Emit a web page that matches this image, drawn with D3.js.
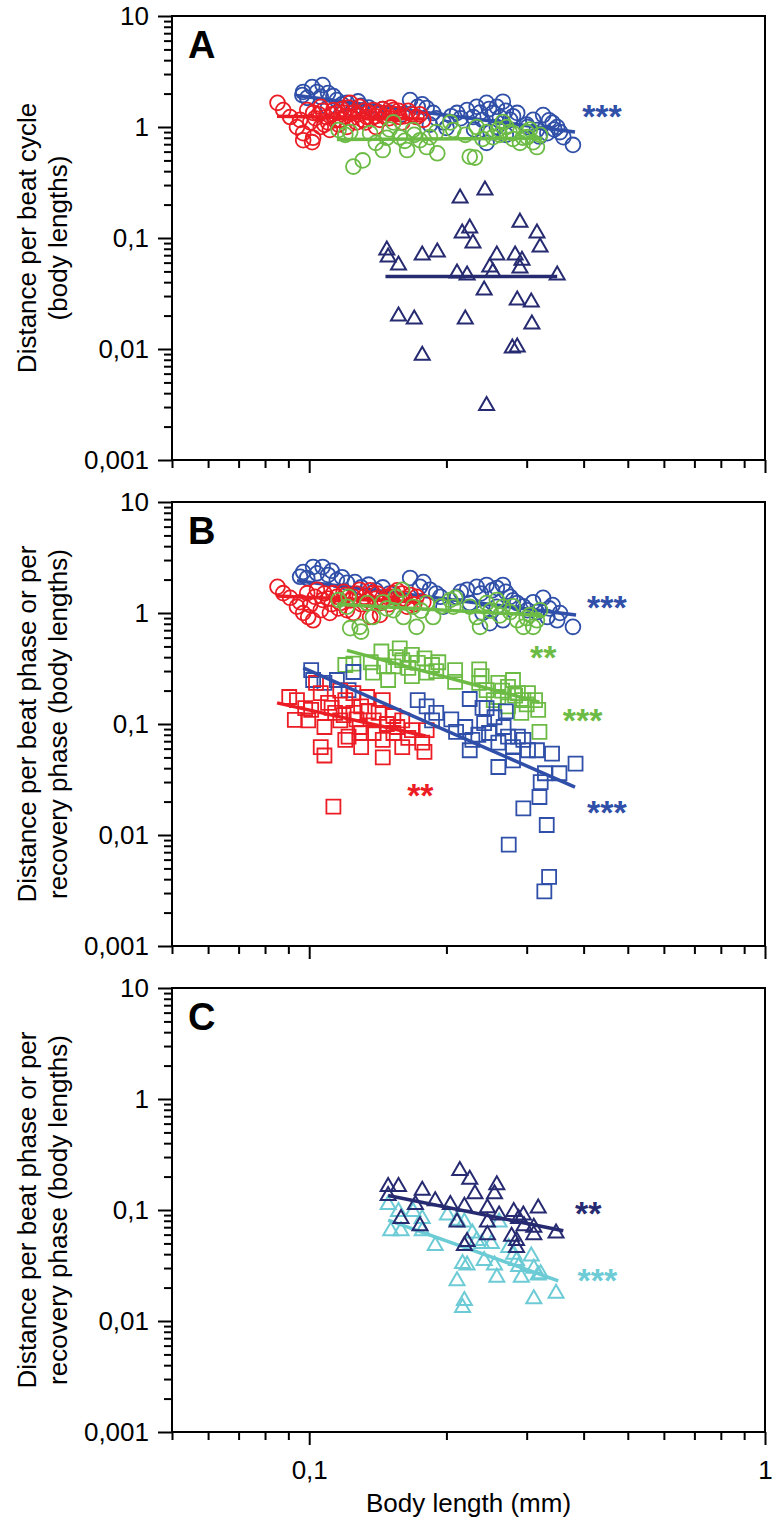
<!DOCTYPE html>
<html><head><meta charset="utf-8">
<script src="https://cdn.jsdelivr.net/npm/d3@7"></script>
<style>
body{margin:0;background:#fff;}
text{font-family:"Liberation Sans",Arial,sans-serif;}
.narrow{font-family:"Liberation Sans Narrow","Arial Narrow","Liberation Sans",Arial,sans-serif;}
</style>
</head><body>
<svg id="chart" width="774" height="1528"></svg>
<script>
// ---------- labels ----------
const yTickValues = [0.001, 0.01, 0.1, 1, 10];
const yTickLabels = ["0,001", "0,01", "0,1", "1", "10"];
const xTickValues = [0.1, 1];
const xTickLabels = ["0,1", "1"];
const xTitle = "Body length (mm)";
const panelLetters = ["A", "B", "C"];
const titleA = ["Distance per beat cycle", "(body lengths)"];
const titleBC = ["Distance per beat phase or per", "recovery phase (body lengths)"];

// ---------- panel A data [body length mm, distance body lengths] ----------
const aBlueCircles = [[0.097,2.07],[0.1015,2.29],[0.107,2.39],[0.104,2.07],[0.110,2.02],[0.099,1.83],[0.106,1.87],[0.115,1.75],[0.121,1.65],[0.0966,1.94],[0.11,1.5],[0.125,1.45],[0.13,1.55],[0.14,1.4],[0.15,1.35],[0.1665,1.75],[0.173,1.52],[0.181,1.48],[0.187,1.34],[0.197,1.10],[0.184,1.05],[0.2,0.98],[0.211,1.34],[0.222,1.42],[0.233,1.52],[0.245,1.65],[0.258,1.52],[0.266,1.69],[0.229,1.23],[0.240,1.16],[0.253,1.34],[0.262,1.23],[0.276,1.16],[0.286,1.34],[0.245,0.72],[0.258,1.0],[0.215,1.2],[0.23,0.95],[0.25,0.9],[0.27,0.85],[0.310,1.16],[0.326,1.28],[0.342,1.09],[0.316,0.94],[0.333,0.88],[0.350,1.0],[0.361,0.81],[0.379,0.69],[0.301,1.0],[0.32,0.82],[0.30,1.05],[0.113,1.9],[0.118,1.6],[0.128,1.7],[0.135,1.5],[0.145,1.45],[0.16,1.3],[0.177,1.6],[0.19,1.2],[0.205,1.25],[0.237,1.35],[0.248,1.45],[0.27,1.4],[0.28,1.25],[0.336,1.15],[0.345,0.95],[0.355,0.9]];
const aRedCircles = [[0.0852,1.65],[0.0877,1.42],[0.0908,1.23],[0.094,1.0],[0.097,0.88],[0.102,0.80],[0.099,1.42],[0.102,1.34],[0.106,1.52],[0.109,1.23],[0.113,1.42],[0.117,1.16],[0.121,1.0],[0.125,1.34],[0.129,1.52],[0.134,1.23],[0.138,1.42],[0.143,1.16],[0.148,1.34],[0.153,1.42],[0.158,1.23],[0.172,1.23],[0.178,1.16],[0.0955,1.16],[0.1005,1.10],[0.106,1.0],[0.111,0.94],[0.115,1.34],[0.123,1.65],[0.131,1.16],[0.140,1.0],[0.150,1.20],[0.097,0.76],[0.1015,0.73],[0.105,1.3],[0.11,1.1],[0.12,1.25],[0.118,1.45],[0.127,1.1],[0.135,1.35],[0.14,1.25],[0.145,1.45],[0.155,1.3],[0.16,1.1],[0.165,1.4],[0.175,1.3],[0.103,1.2],[0.107,1.4],[0.112,1.3],[0.114,1.15],[0.119,1.35],[0.122,1.5],[0.124,1.2],[0.128,1.3],[0.132,1.4],[0.133,1.1],[0.137,1.2],[0.142,1.35],[0.146,1.25],[0.151,1.5],[0.157,1.4],[0.162,1.25],[0.168,1.3],[0.108,1.05],[0.116,1.05]];
const aGreenCircles = [[0.116,0.94],[0.123,0.90],[0.136,0.88],[0.140,0.72],[0.145,0.62],[0.153,1.10],[0.158,0.81],[0.164,0.62],[0.169,0.94],[0.175,0.76],[0.181,0.66],[0.184,0.81],[0.191,0.58],[0.204,1.10],[0.207,0.94],[0.225,0.54],[0.231,0.53],[0.233,1.0],[0.245,0.90],[0.253,0.81],[0.266,1.11],[0.271,1.0],[0.280,0.88],[0.290,0.72],[0.301,0.81],[0.310,0.73],[0.316,0.66],[0.321,0.85],[0.125,0.44],[0.131,0.50],[0.12,0.85],[0.15,0.95],[0.17,0.85],[0.26,0.95],[0.28,0.78],[0.3,0.9],[0.19,0.9],[0.22,0.85],[0.148,0.8],[0.162,0.75],[0.24,0.78],[0.262,0.85],[0.275,0.9],[0.295,0.8],[0.305,0.95]];
const aNavyTriangles = [[0.2143,0.229],[0.243,0.270],[0.290,0.139],[0.225,0.123],[0.2166,0.111],[0.316,0.111],[0.2287,0.090],[0.321,0.083],[0.148,0.078],[0.149,0.0675],[0.177,0.0703],[0.191,0.0748],[0.157,0.057],[0.258,0.0703],[0.283,0.0703],[0.293,0.063],[0.249,0.0548],[0.211,0.0484],[0.222,0.0464],[0.253,0.0494],[0.290,0.0537],[0.350,0.0464],[0.242,0.034],[0.286,0.0276],[0.307,0.0265],[0.157,0.0198],[0.170,0.0186],[0.220,0.0186],[0.308,0.0168],[0.286,0.0104],[0.279,0.0102],[0.177,0.0088],[0.245,0.0031]];
const aBlueFit = [[0.094,1.92],[0.383,0.90]];
const aRedFit = [[0.085,1.25],[0.178,1.18]];
const aGreenFit = [[0.115,0.77],[0.325,0.79]];
const aNavyFit = [[0.147,0.045],[0.35,0.045]];

// ---------- panel B data ----------
const bBlueCircles = [[0.097,2.34],[0.102,2.60],[0.107,2.60],[0.104,2.28],[0.110,2.20],[0.115,1.98],[0.121,1.87],[0.099,2.07],[0.0955,2.12],[0.1665,2.07],[0.175,1.72],[0.184,1.62],[0.194,1.40],[0.197,1.14],[0.211,1.40],[0.222,1.62],[0.233,1.72],[0.245,1.79],[0.258,1.68],[0.266,1.79],[0.225,1.23],[0.240,1.0],[0.249,0.81],[0.266,0.86],[0.276,1.40],[0.286,1.23],[0.310,1.25],[0.326,1.37],[0.342,1.18],[0.316,1.02],[0.333,0.92],[0.350,0.86],[0.379,0.75],[0.301,1.06],[0.258,1.14],[0.13,1.7],[0.14,1.6],[0.15,1.5],[0.112,2.4],[0.118,2.1],[0.126,1.9],[0.135,1.8],[0.145,1.7],[0.178,1.9],[0.19,1.5],[0.215,1.55],[0.238,1.5],[0.252,1.6],[0.27,1.55],[0.28,1.3],[0.295,1.15],[0.336,1.1],[0.355,1.0]];
const bRedCircles = [[0.0852,1.72],[0.0877,1.51],[0.0908,1.37],[0.094,1.14],[0.097,1.0],[0.102,0.86],[0.0995,0.92],[0.099,1.51],[0.104,1.62],[0.107,1.31],[0.113,1.51],[0.117,1.23],[0.121,1.06],[0.125,1.40],[0.129,1.62],[0.134,1.31],[0.138,1.51],[0.143,1.23],[0.148,1.40],[0.153,1.51],[0.158,1.31],[0.164,1.14],[0.172,1.40],[0.178,1.25],[0.106,1.06],[0.111,1.0],[0.136,0.92],[0.125,1.0],[0.143,0.96],[0.0955,1.25],[0.1005,1.18],[0.11,1.35],[0.12,1.45],[0.13,1.2],[0.14,1.35],[0.15,1.2],[0.16,1.5],[0.17,1.2],[0.103,1.4],[0.108,1.5],[0.112,1.2],[0.115,1.4],[0.119,1.55],[0.123,1.3],[0.127,1.5],[0.132,1.4],[0.136,1.6],[0.141,1.5],[0.146,1.3],[0.152,1.4],[0.156,1.6],[0.162,1.35],[0.167,1.45],[0.116,1.1]];
const bGreenCircles = [[0.116,1.31],[0.121,1.14],[0.134,1.23],[0.138,0.92],[0.123,0.73],[0.129,0.75],[0.145,1.25],[0.155,1.40],[0.153,1.06],[0.161,0.92],[0.172,0.75],[0.169,1.14],[0.181,1.23],[0.187,0.92],[0.204,1.31],[0.207,1.14],[0.225,1.14],[0.233,0.92],[0.237,0.75],[0.245,1.23],[0.258,1.31],[0.266,1.14],[0.276,1.02],[0.286,0.86],[0.295,0.75],[0.305,0.96],[0.316,0.86],[0.321,1.06],[0.310,0.75],[0.130,0.68],[0.209,1.37],[0.16,1.62],[0.122,1.4],[0.148,1.1],[0.176,1.05],[0.195,1.15],[0.25,1.05],[0.262,0.95],[0.28,1.15],[0.3,0.9]];
const bGreenSquares = [[0.125,0.35],[0.1365,0.36],[0.144,0.45],[0.146,0.33],[0.138,0.29],[0.149,0.249],[0.158,0.48],[0.160,0.377],[0.153,0.33],[0.168,0.42],[0.173,0.355],[0.179,0.39],[0.186,0.34],[0.192,0.36],[0.168,0.27],[0.181,0.29],[0.209,0.306],[0.209,0.24],[0.236,0.31],[0.239,0.27],[0.236,0.235],[0.245,0.202],[0.260,0.235],[0.260,0.175],[0.273,0.216],[0.280,0.249],[0.287,0.19],[0.295,0.164],[0.273,0.144],[0.302,0.19],[0.313,0.164],[0.318,0.134],[0.292,0.126],[0.320,0.085],[0.254,0.164],[0.12,0.34],[0.155,0.4],[0.165,0.32],[0.19,0.3],[0.265,0.2],[0.283,0.18],[0.3,0.15]];
const bBlueSquares = [[0.102,0.249],[0.101,0.306],[0.108,0.235],[0.115,0.249],[0.122,0.202],[0.125,0.294],[0.173,0.164],[0.181,0.144],[0.190,0.126],[0.186,0.108],[0.225,0.168],[0.245,0.139],[0.220,0.094],[0.228,0.072],[0.225,0.058],[0.242,0.102],[0.248,0.083],[0.260,0.068],[0.267,0.094],[0.273,0.077],[0.280,0.062],[0.287,0.077],[0.260,0.041],[0.280,0.047],[0.295,0.072],[0.302,0.058],[0.316,0.058],[0.341,0.054],[0.329,0.036],[0.354,0.036],[0.384,0.044],[0.322,0.030],[0.320,0.022],[0.295,0.0174],[0.332,0.0123],[0.274,0.0082],[0.336,0.0042],[0.328,0.0031],[0.205,0.11],[0.21,0.085],[0.235,0.08],[0.255,0.115],[0.27,0.13],[0.24,0.14]];
const bRedSquares = [[0.0904,0.175],[0.093,0.109],[0.0995,0.108],[0.098,0.139],[0.1035,0.235],[0.106,0.19],[0.110,0.155],[0.114,0.126],[0.108,0.094],[0.106,0.062],[0.108,0.052],[0.113,0.018],[0.120,0.164],[0.125,0.126],[0.122,0.077],[0.130,0.144],[0.1385,0.108],[0.145,0.164],[0.130,0.062],[0.145,0.050],[0.153,0.083],[0.160,0.108],[0.160,0.062],[0.177,0.068],[0.179,0.056],[0.168,0.088],[0.181,0.088],[0.094,0.164],[0.101,0.134],[0.117,0.108],[0.129,0.094],[0.1385,0.083],[0.145,0.072],[0.125,0.19],[0.117,0.20],[0.134,0.175],[0.142,0.126],[0.153,0.118],[0.156,0.094],[0.130,0.083],[0.120,0.072],[0.112,0.14],[0.119,0.12],[0.127,0.11],[0.135,0.13],[0.148,0.1],[0.165,0.075]];
const bBlueCircFit = [[0.094,1.95],[0.385,0.96]];
const bRedCircFit = [[0.085,1.42],[0.178,1.25]];
const bGreenCircFit = [[0.115,1.2],[0.325,0.95]];
const bGreenSqFit = [[0.121,0.46],[0.32,0.157]];
const bBlueSqFit = [[0.097,0.32],[0.383,0.027]];
const bRedSqFit = [[0.085,0.155],[0.18,0.078]];

// ---------- panel C data ----------
const cNavyTriangles = [[0.149,0.163],[0.157,0.163],[0.149,0.135],[0.177,0.151],[0.171,0.112],[0.189,0.121],[0.204,0.112],[0.214,0.227],[0.225,0.189],[0.231,0.140],[0.219,0.108],[0.211,0.078],[0.222,0.052],[0.219,0.048],[0.246,0.105],[0.258,0.169],[0.255,0.140],[0.246,0.078],[0.246,0.060],[0.261,0.090],[0.281,0.097],[0.288,0.084],[0.295,0.090],[0.278,0.058],[0.285,0.046],[0.285,0.053],[0.296,0.072],[0.311,0.070],[0.318,0.104],[0.311,0.060],[0.348,0.062],[0.175,0.072],[0.159,0.084]];
const cCyanTriangles = [[0.149,0.112],[0.157,0.097],[0.151,0.065],[0.159,0.065],[0.169,0.097],[0.177,0.084],[0.177,0.065],[0.189,0.048],[0.201,0.090],[0.211,0.081],[0.219,0.078],[0.228,0.062],[0.217,0.033],[0.222,0.032],[0.211,0.023],[0.219,0.0153],[0.217,0.0132],[0.239,0.050],[0.251,0.050],[0.242,0.035],[0.255,0.032],[0.258,0.0248],[0.261,0.078],[0.274,0.046],[0.281,0.040],[0.285,0.035],[0.288,0.031],[0.292,0.0248],[0.307,0.0386],[0.311,0.0298],[0.322,0.0267],[0.311,0.0159],[0.348,0.0178],[0.318,0.026],[0.233,0.053]];
const cNavyFit = [[0.149,0.135],[0.361,0.065]];
const cCyanFit = [[0.149,0.081],[0.352,0.023]];

// ---------- significance labels [text, x, y] ----------
const sigA = [["***",0.397,1.45]];
const sigB = [["***",0.407,1.31],["**",0.305,0.464],["***",0.360,0.126],["**",0.164,0.0265],["***",0.407,0.0186]];
const sigC = [["**",0.383,0.109],["***",0.388,0.027]];

// ---------- colours ----------
const BLUE = "#2f4fa8", RED = "#ec1c24", GREEN = "#6cbb45", NAVY = "#262a70", CYAN = "#6ccbd5";

// ---------- layout ----------
const plotL = 172, plotR = 765, panelH = 444;
const panelTops = [16, 502, 988];
const svg = d3.select("#chart");
const x = d3.scaleLog().domain([0.05, 1]).range([plotL, plotR]);

const xMinor = [];
[0.01, 0.1].forEach(b => { for (let k = 2; k <= 9; k++) { const v = +(b * k).toFixed(4); if (v >= 0.05 && v < 1) xMinor.push(v); } });
const yMinor = [];
[0.001, 0.01, 0.1, 1].forEach(b => { for (let k = 2; k <= 9; k++) yMinor.push(+(b * k).toFixed(5)); });

const panels = [
  { letter: panelLetters[0], title: titleA,
    series: [
      { data: aBlueCircles, shape: "circle", color: BLUE }, { fit: aBlueFit, color: BLUE },
      { data: aRedCircles, shape: "circle", color: RED }, { fit: aRedFit, color: RED },
      { data: aGreenCircles, shape: "circle", color: GREEN }, { fit: aGreenFit, color: GREEN },
      { data: aNavyTriangles, shape: "triangle", color: NAVY }, { fit: aNavyFit, color: NAVY }],
    sig: sigA.map(s => [...s, BLUE]) },
  { letter: panelLetters[1], title: titleBC,
    series: [
      { data: bBlueCircles, shape: "circle", color: BLUE }, { fit: bBlueCircFit, color: BLUE },
      { data: bRedCircles, shape: "circle", color: RED }, { fit: bRedCircFit, color: RED },
      { data: bGreenCircles, shape: "circle", color: GREEN }, { fit: bGreenCircFit, color: GREEN },
      { data: bGreenSquares, shape: "square", color: GREEN }, { fit: bGreenSqFit, color: GREEN },
      { data: bBlueSquares, shape: "square", color: BLUE },
      { data: bRedSquares, shape: "square", color: RED }, { fit: bRedSqFit, color: RED },
      { fit: bBlueSqFit, color: BLUE }],
    sig: sigB.map((s, i) => [...s, [BLUE, GREEN, GREEN, RED, BLUE][i]]) },
  { letter: panelLetters[2], title: titleBC,
    series: [
      { data: cCyanTriangles, shape: "triangle", color: CYAN }, { fit: cCyanFit, color: CYAN },
      { data: cNavyTriangles, shape: "triangle", color: NAVY }, { fit: cNavyFit, color: NAVY }],
    sig: sigC.map((s, i) => [...s, [NAVY, CYAN][i]]) }
];

const triPath = "M0,-8.5L7.5,4.5L-7.5,4.5Z";

panels.forEach((p, pi) => {
  const top = panelTops[pi];
  const y = d3.scaleLog().domain([0.001, 10]).range([top + panelH, top]);
  const g = svg.append("g");

  const dg = g.append("g");
  p.series.forEach(s => {
    if (s.fit) {
      dg.append("path").datum(s.fit)
        .attr("d", d3.line().x(d => x(d[0])).y(d => y(d[1])))
        .attr("stroke", s.color).attr("stroke-width", 3.5).attr("fill", "none");
      return;
    }
    const sel = dg.append("g").selectAll("path").data(s.data).join("path")
      .attr("fill", "none").attr("stroke", s.color).attr("stroke-width", 1.8)
      .attr("transform", d => `translate(${x(d[0])},${y(d[1])})`);
    if (s.shape === "circle") sel.attr("d", d3.arc()({innerRadius: 0, outerRadius: 7.4, startAngle: 0, endAngle: 2 * Math.PI}));
    else if (s.shape === "square") sel.attr("d", "M-7,-7H7V7H-7Z");
    else sel.attr("d", triPath).attr("stroke-width", 2);
  });

  p.sig.forEach(s => {
    g.append("text").attr("x", x(s[1])).attr("y", y(s[2]) + 19)
      .attr("fill", s[3]).attr("font-size", 34).attr("font-weight", "bold").text(s[0]);
  });

  g.append("rect").attr("x", plotL).attr("y", top).attr("width", plotR - plotL).attr("height", panelH)
    .attr("fill", "none").attr("stroke", "#000").attr("stroke-width", 2);

  const yMinAx = g.append("g").attr("transform", `translate(${plotL},0)`)
    .call(d3.axisLeft(y).tickValues(yMinor).tickSize(8).tickFormat(""));
  const yMajAx = g.append("g").attr("transform", `translate(${plotL},0)`)
    .call(d3.axisLeft(y).tickValues(yTickValues).tickSize(14).tickPadding(9).tickFormat((d, i) => yTickLabels[i]));
  const xMinAx = g.append("g").attr("transform", `translate(0,${top + panelH})`)
    .call(d3.axisBottom(x).tickValues(xMinor).tickSize(8).tickFormat(""));
  const xMajAx = g.append("g").attr("transform", `translate(0,${top + panelH})`)
    .call(d3.axisBottom(x).tickValues(xTickValues).tickSize(13).tickPadding(16)
      .tickFormat((d, i) => pi === 2 ? xTickLabels[i] : ""));
  [yMinAx, yMajAx, xMinAx, xMajAx].forEach(a => {
    a.select(".domain").remove();
    a.selectAll(".tick line").attr("stroke", "#000").attr("stroke-width", 2);
    a.selectAll(".tick text").attr("fill", "#000").attr("font-size", 26)
      .attr("class", "narrow").attr("font-family", null);
  });

  g.append("text").attr("x", 188).attr("y", top + 42).attr("font-size", 38)
    .attr("font-weight", "bold").text(p.letter);

  const cy = top + panelH / 2;
  p.title.forEach((t, li) => {
    g.append("text").attr("transform", `translate(${36 + li * 31},${cy}) rotate(-90)`)
      .attr("text-anchor", "middle").attr("font-size", 26).text(t);
  });
});

svg.append("text").attr("x", (plotL + plotR) / 2).attr("y", 1512).attr("text-anchor", "middle")
  .attr("font-size", 26).attr("class", "narrow").text(xTitle);
</script>
</body></html>
